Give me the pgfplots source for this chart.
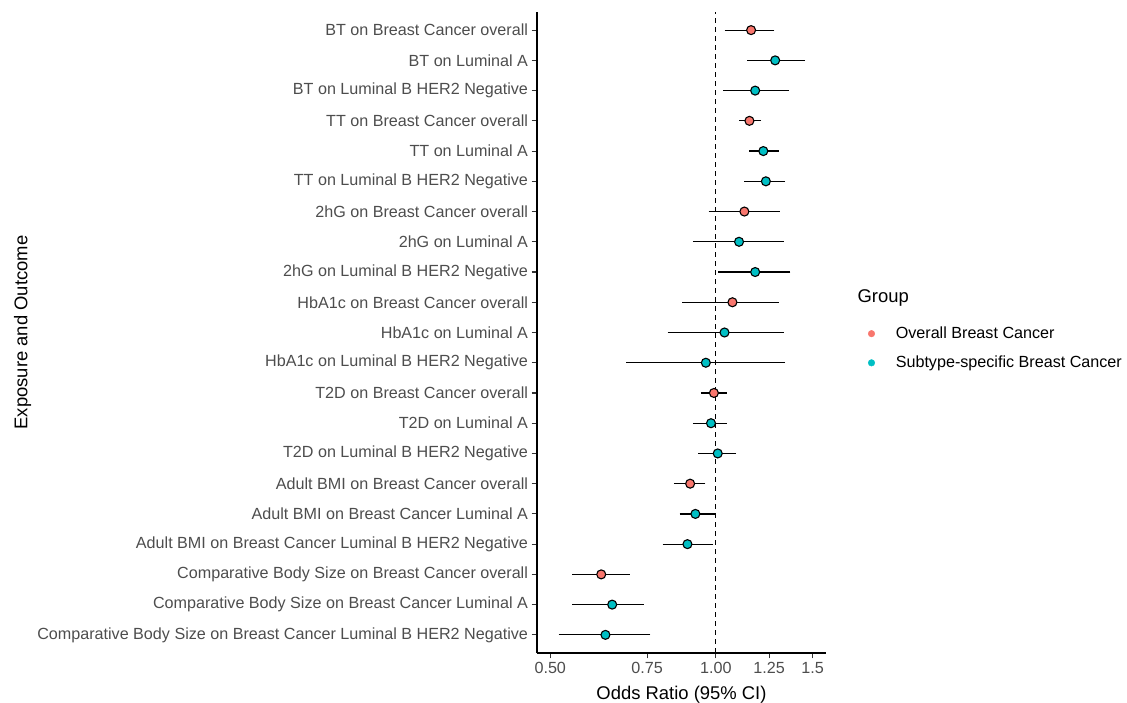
\documentclass[border=0pt]{standalone}
\usepackage{fontspec}
\setmainfont{Liberation Sans}
\usepackage{pgfplots}
\pgfplotsset{compat=1.18}
\usepackage{pgfplotstable}
\definecolor{ovr}{HTML}{F8766D}
\definecolor{sub}{HTML}{00BFC4}
\definecolor{txt}{HTML}{4D4D4D}

% y: row position (21 = top), or: odds ratio, lo/hi: 95% CI
\pgfplotstableread{
y  or    lo    hi
21 1.159 1.037 1.278
18 1.151 1.102 1.209
15 1.127 0.970 1.307
12 1.072 0.868 1.301
9  0.992 0.939 1.047
6  0.898 0.839 0.957
3  0.619 0.548 0.698
}\overall
\pgfplotstableread{
y  or    lo    hi
20 1.282 1.140 1.453
19 1.179 1.031 1.359
17 1.220 1.151 1.301
16 1.233 1.127 1.337
14 1.102 0.908 1.329
13 1.179 1.011 1.366
11 1.037 0.817 1.329
10 0.959 0.688 1.337
8  0.980 0.908 1.047
7  1.008 0.929 1.089
5  0.918 0.859 1.000
4  0.888 0.800 0.990
2  0.648 0.548 0.739
1  0.630 0.518 0.760
}\subtype

\begin{document}
\begin{tikzpicture}
\useasboundingbox (0,0) rectangle (1127bp,703bp);
\begin{axis}[
  at={(537bp,50bp)}, anchor=south west,
  scale only axis, width=289bp, height=641bp,
  xmode=log, xmin=0.473, xmax=1.586,
  ymin=0.4, ymax=21.6,
  axis x line*=bottom, axis y line*=left,
  axis line style={black, line width=1.1bp},
  xtick={0.5,0.75,1,1.25,1.5},
  xticklabels={0.50,0.75,1.00,1.25,1.5},
  minor xtick={}, log ticks with fixed point,
  ytick={1,...,21},
  yticklabels={
    Comparative Body Size on Breast Cancer Luminal B HER2 Negative,
    Comparative Body Size on Breast Cancer Luminal A,
    Comparative Body Size on Breast Cancer overall,
    Adult BMI on Breast Cancer Luminal B HER2 Negative,
    Adult BMI on Breast Cancer Luminal A,
    Adult BMI on Breast Cancer overall,
    T2D on Luminal B HER2 Negative,
    T2D on Luminal A,
    T2D on Breast Cancer overall,
    HbA1c on Luminal B HER2 Negative,
    HbA1c on Luminal A,
    HbA1c on Breast Cancer overall,
    2hG on Luminal B HER2 Negative,
    2hG on Luminal A,
    2hG on Breast Cancer overall,
    TT on Luminal B HER2 Negative,
    TT on Luminal A,
    TT on Breast Cancer overall,
    BT on Luminal B HER2 Negative,
    BT on Luminal A,
    BT on Breast Cancer overall},
  tick align=outside, major tick length=5.5bp,
  tick style={black!80, line width=1.1bp},
  /pgf/number format/assume math mode=true,
  ticklabel style={font=\fontsize{16.2}{19}\selectfont, text=txt},
  xlabel={Odds Ratio (95\% CI)},
  ylabel={Exposure and Outcome},
  label style={font=\fontsize{18.5}{22}\selectfont},
  xlabel style={at={(axis description cs:0.5,-0.0655)}, anchor=center},
  ylabel style={at={(axis description cs:-1.78,0.5)}, anchor=center, rotate=0},
  clip=false,
  legend style={at={(axis description cs:1.135,0.515)}, anchor=north west,
    draw=none, fill=none, font=\fontsize{16.2}{19}\selectfont,
    row sep=12bp, cells={anchor=west},
    /tikz/every odd column/.append style={column sep=19bp}},
  legend cell align=left,
]
\addlegendimage{only marks, mark=*, mark size=3.3bp, color=ovr}
\addlegendentry{Overall Breast Cancer}
\addlegendimage{only marks, mark=*, mark size=3.3bp, color=sub}
\addlegendentry{Subtype-specific Breast Cancer}

\addplot[black, line width=1.2bp, dash pattern=on 5bp off 4bp, forget plot]
  coordinates {(1,0.4) (1,21.6)};

\addplot[only marks, mark=*, mark size=4.5bp, draw=black, fill=ovr,
  mark options={line width=1.1bp}, forget plot,
  error bars/.cd, x dir=both, x explicit, error mark=none,
  error bar style={black, line width=1.25bp}]
  table[x=or, y=y,
    x error plus expr=\thisrow{hi}-\thisrow{or},
    x error minus expr=\thisrow{or}-\thisrow{lo}] {\overall};
\addplot[only marks, mark=*, mark size=4.5bp, draw=black, fill=sub,
  mark options={line width=1.1bp}, forget plot,
  error bars/.cd, x dir=both, x explicit, error mark=none,
  error bar style={black, line width=1.25bp}]
  table[x=or, y=y,
    x error plus expr=\thisrow{hi}-\thisrow{or},
    x error minus expr=\thisrow{or}-\thisrow{lo}] {\subtype};
\end{axis}
\node[anchor=west, font=\fontsize{18.5}{22}\selectfont] at (854bp,405bp) {Group};
\end{tikzpicture}
\end{document}
